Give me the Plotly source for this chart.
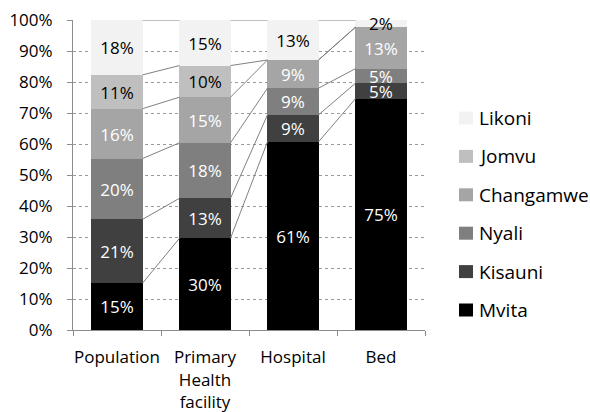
import plotly.graph_objects as go

categories = ["Population", "Primary<br>Health<br>facility", "Hospital", "Bed"]
series_names = ["Mvita", "Kisauni", "Nyali", "Changamwe", "Jomvu", "Likoni"]
mvita = [0.151, 0.296, 0.607, 0.746]
kisauni = [0.206, 0.129, 0.087, 0.050]
nyali = [0.196, 0.179, 0.086, 0.047]
changamwe = [0.161, 0.147, 0.091, 0.134]
jomvu = [0.109, 0.102, 0.000, 0.000]
likoni = [0.177, 0.147, 0.129, 0.023]
series_values = [mvita, kisauni, nyali, changamwe, jomvu, likoni]
y_ticks = [0, 0.1, 0.2, 0.3, 0.4, 0.5, 0.6, 0.7, 0.8, 0.9, 1.0]

colors = ["#000000", "#404040", "#7f7f7f", "#a5a5a5", "#bfbfbf", "#f2f2f2"]
text_colors = ["white", "white", "white", "white", "black", "black"]
FONT = "Open Sans"
FS = 17
BAR_W = 0.58

# layout geometry (pixels)
W, H = 590, 412
ML, MR, MT, MB = 73, 165, 20, 82
PW, PH = W - ML - MR, H - MT - MB


def px_x(x):
    return (x - ML) / PW


def px_y(y):
    return (H - MB - y) / PH


x_pos = list(range(len(categories)))
fig = go.Figure()

for name, vals, col, tcol in zip(series_names, series_values, colors, text_colors):
    labels = [f"{round(v * 100):d}%" if v > 0 else "" for v in vals]
    fig.add_trace(go.Bar(
        x=x_pos, y=vals, name=name, width=BAR_W,
        marker=dict(color=col, line=dict(width=0)),
        text=labels, textposition="inside", insidetextanchor="middle",
        textangle=0, textfont=dict(family=FONT, size=FS, color=tcol),
        hoverinfo="skip", cliponaxis=False, showlegend=False,
    ))

# series lines connecting segment tops between adjacent bars
cum = [0.0] * len(categories)
for name, vals in zip(series_names, series_values):
    cum = [c + v for c, v in zip(cum, vals)]
    xs, ys = [], []
    for i in range(len(categories) - 1):
        xs += [x_pos[i] + BAR_W / 2, x_pos[i + 1] - BAR_W / 2, None]
        ys += [cum[i], cum[i + 1], None]
    fig.add_trace(go.Scatter(
        x=xs, y=ys, mode="lines", line=dict(color="#808080", width=1),
        showlegend=False, hoverinfo="skip",
    ))

# legend drawn by hand (Likoni on top, Mvita at bottom)
LEG_SW_X0, LEG_SW_X1, LEG_TX = 459, 473, 477
LEG_TOP, LEG_STEP, SW_H = 118, 38.4, 13
shapes, annotations = [], []
for j, (name, col) in enumerate(zip(series_names[::-1], colors[::-1])):
    cy = LEG_TOP + j * LEG_STEP
    shapes.append(dict(
        type="rect", xref="paper", yref="paper",
        x0=px_x(LEG_SW_X0), x1=px_x(LEG_SW_X1),
        y0=px_y(cy + SW_H / 2), y1=px_y(cy - SW_H / 2),
        fillcolor=col, line=dict(width=0), layer="above",
    ))
    annotations.append(dict(
        text=name, xref="paper", yref="paper", x=px_x(LEG_TX), y=px_y(cy),
        xanchor="left", yanchor="middle", showarrow=False,
        font=dict(family=FONT, size=19, color="#000000"),
    ))

fig.update_layout(
    width=W, height=H,
    margin=dict(l=ML, r=MR, t=MT, b=MB),
    barmode="stack", bargap=0,
    paper_bgcolor="white", plot_bgcolor="white",
    font=dict(family=FONT, size=FS, color="#000000"),
    uniformtext=dict(minsize=FS, mode="show"),
    showlegend=False,
    shapes=shapes, annotations=annotations,
)

fig.update_yaxes(
    range=[0, 1], tickmode="array", tickvals=y_ticks, tickformat=".0%",
    showgrid=True, gridcolor="#9a9a9a", griddash="dot", gridwidth=1,
    showline=True, linecolor="#8c8c8c", linewidth=1,
    ticks="outside", ticklen=5, tickcolor="#8c8c8c",
    tickfont=dict(family=FONT, size=FS, color="#000000"),
    ticklabelstandoff=11, automargin=False,
    zeroline=False,
)

fig.update_xaxes(
    range=[-0.5, len(categories) - 0.5], tickmode="array",
    tickvals=x_pos, ticktext=categories, ticks="", showgrid=False,
    showline=True, linecolor="#8c8c8c", linewidth=1,
    tickfont=dict(family=FONT, size=FS, color="#000000"),
    ticklabelstandoff=12, automargin=False,
    minor=dict(tickmode="array", tickvals=[i - 0.5 for i in range(len(categories) + 1)],
               ticks="outside", ticklen=5, tickcolor="#8c8c8c", showgrid=False),
    zeroline=False,
)

fig.write_html("out.html")
